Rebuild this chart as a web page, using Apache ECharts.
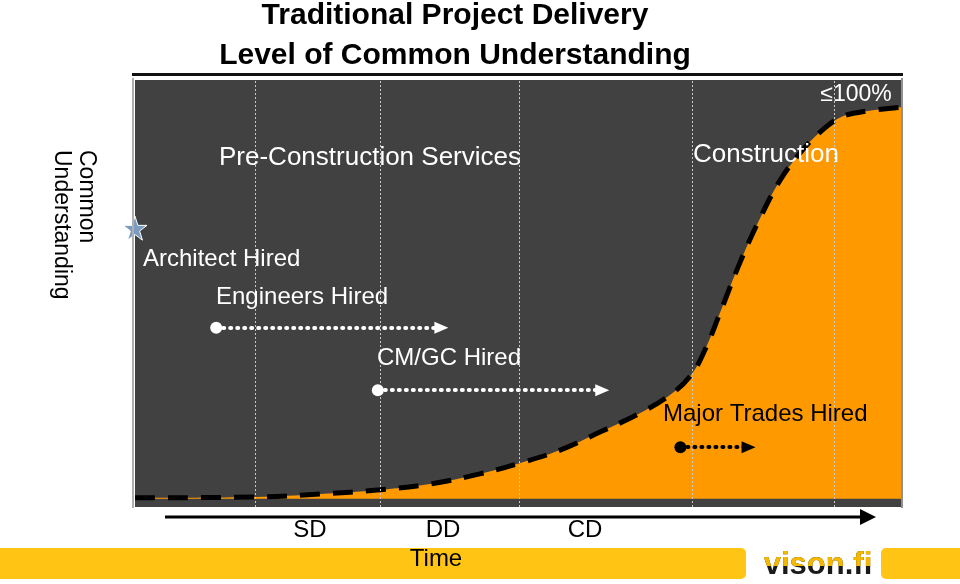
<!DOCTYPE html>
<html>
<head>
<meta charset="utf-8">
<script src="https://cdn.jsdelivr.net/npm/echarts@6/dist/echarts.min.js"></script>
<style>html,body{margin:0;padding:0;background:#fff}#c{width:960px;height:584px}</style>
</head>
<body>
<div id="c"></div>
<script>
// ---- data ----
const titleLines = ['Traditional Project Delivery', 'Level of Common Understanding'];
const yAxisName = ['Common', 'Understanding'];
const timeX = [0, 15.7, 24.2, 32.0, 38.5, 45.0, 50.3, 55.5, 60.7, 65.9, 69.8, 72.5, 74.4, 76.4, 79.0, 81.6, 84.2, 86.8, 89.4, 92.0, 94.6, 100];
const understanding = [0.2, 0.4, 1.1, 2.1, 3.5, 5.9, 8.5, 11.6, 15.9, 20.4, 24.7, 29.3, 35.5, 44.5, 56.5, 67.0, 76.0, 82.5, 87.5, 91.0, 92.3, 93.5];
const phaseBoundaries = [15.7, 32.0, 50.1, 72.7, 91.3];
const phaseLabels = ['SD', 'DD', 'CD'];
const hireArrows = [
  { name: 'Engineers Hired', from: 10.6, to: 40.0, level: 40.8, color: '#ffffff' },
  { name: 'CM/GC Hired', from: 31.7, to: 61.0, level: 25.9, color: '#ffffff' },
  { name: 'Major Trades Hired', from: 71.2, to: 80.1, level: 12.3, color: '#000000' }
];
const architectMark = { name: 'Architect Hired', x: 0, y: 64.6 };
const maxLabel = '≤100%';
const phaseNames = ['Pre-Construction Services', 'Construction'];
const xAxisName = 'Time';
const brand = 'vison.fi';

const chart = echarts.init(document.getElementById('c'));
const F = '"Liberation Sans", Arial, sans-serif';
const starPath = 'path://M50,0 L61.8,35.1 L98.9,35.1 L68.9,56.8 L80.3,91.9 L50,70.2 L19.7,91.9 L31.1,56.8 L1.1,35.1 L38.2,35.1 Z';

const option = {
  animation: false,
  backgroundColor: '#ffffff',
  grid: { left: 135, right: 59, top: 80, bottom: 77, show: true, backgroundColor: '#414141', borderWidth: 0 },
  xAxis: { type: 'value', min: 0, max: 100, show: false },
  yAxis: { type: 'value', min: -2, max: 100, show: false },
  series: [
    {
      type: 'line', smooth: 0.4, symbol: 'none', z: 3,
      data: timeX.map((x, i) => [x, understanding[i]]),
      lineStyle: { color: '#000', width: 5, type: [20, 13] },
      areaStyle: { color: '#ff9900', opacity: 1 }
    },
    {
      type: 'line', data: [], z: 4, silent: true,
      markLine: {
        silent: true, symbol: 'none', label: { show: false },
        lineStyle: { color: '#c8c8c8', type: [2, 2], width: 1 },
        data: phaseBoundaries.map(v => ({ xAxis: v }))
      }
    },
    {
      type: 'line', data: [], z: 5, silent: true,
      markLine: {
        silent: true, symbol: ['circle', 'triangle'], symbolSize: [12, 14], label: { show: false },
        data: hireArrows.map(a => [
          { coord: [a.from, a.level], lineStyle: { color: a.color, width: 4, type: [1, 6], cap: 'round' }, itemStyle: { color: a.color } },
          { coord: [a.to, a.level] }
        ])
      },
      markPoint: {
        silent: true,
        data: [{ coord: [architectMark.x, architectMark.y], symbol: starPath, symbolSize: 24,
          itemStyle: { color: '#7a9cc0', borderColor: '#ffffff', borderWidth: 1 } }],
        label: { show: false }
      }
    }
  ],
  graphic: [
    { type: 'rect', shape: { x: 132, y: 73, width: 771, height: 3 }, style: { fill: '#111' }, z: 10 },
    { type: 'rect', shape: { x: 132, y: 78, width: 2, height: 430 }, style: { fill: '#b0b0b0' }, z: 10 },
    { type: 'rect', shape: { x: 901, y: 78, width: 2, height: 430 }, style: { fill: '#909090' }, z: 10 },
    { type: 'text', x: 455, y: 16, style: { text: titleLines[0], font: 'bold 30px ' + F, fill: '#000', textAlign: 'center', textVerticalAlign: 'middle' }, z: 10 },
    { type: 'text', x: 455, y: 56, style: { text: titleLines[1], font: 'bold 30px ' + F, fill: '#000', textAlign: 'center', textVerticalAlign: 'middle' }, z: 10 },
    { type: 'text', x: 74, y: 150, rotation: -Math.PI / 2, style: { text: yAxisName.join('\n'), font: '23px ' + F, fill: '#000', textAlign: 'left', textVerticalAlign: 'middle', lineHeight: 25 }, z: 10 },
    { type: 'text', x: 856, y: 95, style: { text: maxLabel, font: '23px ' + F, fill: '#fff', textAlign: 'center', textVerticalAlign: 'middle' }, z: 10 },
    { type: 'text', x: 370, y: 158, style: { text: phaseNames[0], font: '26px ' + F, fill: '#fff', textAlign: 'center', textVerticalAlign: 'middle' }, z: 10 },
    { type: 'text', x: 766, y: 155, style: { text: phaseNames[1], font: '26px ' + F, fill: '#fff', textAlign: 'center', textVerticalAlign: 'middle' }, z: 10 },
    { type: 'text', x: 143, y: 259, style: { text: architectMark.name, font: '24px ' + F, fill: '#fff', textAlign: 'left', textVerticalAlign: 'middle' }, z: 10 },
    { type: 'text', x: 216, y: 297, style: { text: hireArrows[0].name, font: '24px ' + F, fill: '#fff', textAlign: 'left', textVerticalAlign: 'middle' }, z: 10 },
    { type: 'text', x: 377, y: 358, style: { text: hireArrows[1].name, font: '24px ' + F, fill: '#fff', textAlign: 'left', textVerticalAlign: 'middle' }, z: 10 },
    { type: 'text', x: 663, y: 414, style: { text: hireArrows[2].name, font: '24px ' + F, fill: '#000', textAlign: 'left', textVerticalAlign: 'middle' }, z: 10 },
    { type: 'rect', shape: { x: 165, y: 515.5, width: 697, height: 3 }, style: { fill: '#000' }, z: 10 },
    { type: 'polygon', shape: { points: [[860, 509], [876, 517], [860, 525]] }, style: { fill: '#000' }, z: 10 },
    { type: 'text', x: 310, y: 530, style: { text: phaseLabels[0], font: '24px ' + F, fill: '#000', textAlign: 'center', textVerticalAlign: 'middle' }, z: 10 },
    { type: 'text', x: 443, y: 530, style: { text: phaseLabels[1], font: '24px ' + F, fill: '#000', textAlign: 'center', textVerticalAlign: 'middle' }, z: 10 },
    { type: 'text', x: 585, y: 530, style: { text: phaseLabels[2], font: '24px ' + F, fill: '#000', textAlign: 'center', textVerticalAlign: 'middle' }, z: 10 },
    { type: 'rect', shape: { x: -6, y: 548, width: 752, height: 31, r: 5 }, style: { fill: '#ffc414' }, z: 9 },
    { type: 'rect', shape: { x: 881, y: 548, width: 90, height: 31, r: 5 }, style: { fill: '#ffc414' }, z: 9 },
    { type: 'text', x: 436, y: 559, style: { text: xAxisName, font: '24px ' + F, fill: '#000', textAlign: 'center', textVerticalAlign: 'middle' }, z: 10 }
  ]
};
chart.setOption(option);

// brand mark: dark text with a clipped yellow copy on top (clip path in local coords)
const brandStyle = { text: brand, font: 'bold 31px ' + F, align: 'center', verticalAlign: 'middle' };
const brandBase = new echarts.graphic.Text({ x: 818, y: 565, z: 20, silent: true, style: Object.assign({ fill: '#1a1a1a' }, brandStyle) });
const brandTop = new echarts.graphic.Text({ x: 818, y: 565, z: 21, silent: true, style: Object.assign({ fill: '#f5b800' }, brandStyle) });
brandTop.setClipPath(new echarts.graphic.Rect({ shape: { x: -90, y: -30, width: 180, height: 31 } }));
chart.getZr().add(brandBase);
chart.getZr().add(brandTop);
</script>
</body>
</html>
